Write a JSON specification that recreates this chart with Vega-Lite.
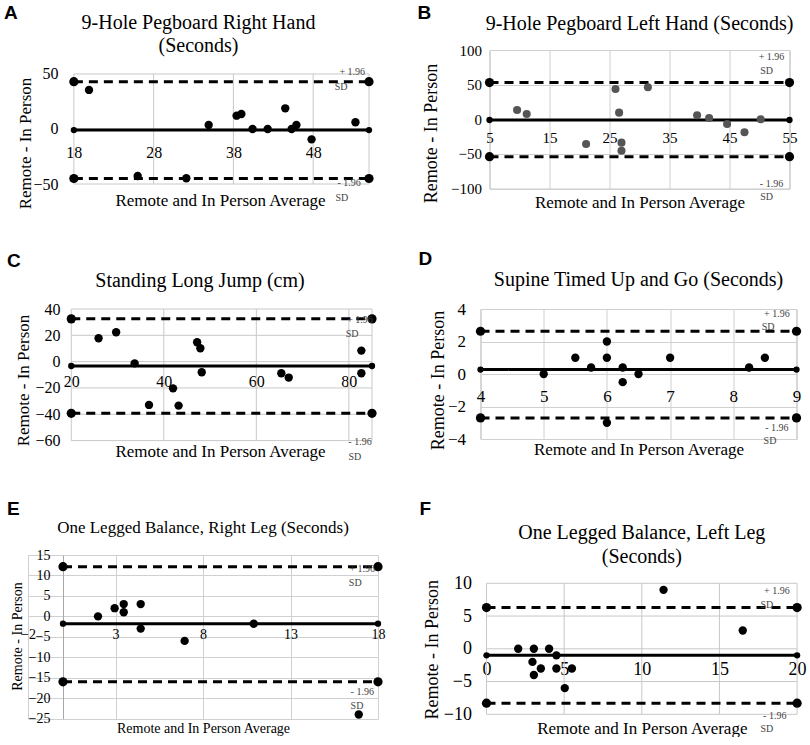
{
"$schema":"https://vega.github.io/schema/vega-lite/v6.json",
"padding":{"left":4,"top":3,"right":0,"bottom":0},
"spacing":39,
"datasets":{
"pts":[
{"panel":"A","x":19.9,"y":35.5},{"panel":"A","x":26.0,"y":-42.7},{"panel":"A","x":32.1,"y":-44.8},{"panel":"A","x":34.9,"y":3.6},{"panel":"A","x":38.4,"y":12.1},{"panel":"A","x":39.0,"y":13.6},{"panel":"A","x":40.4,"y":0},{"panel":"A","x":42.3,"y":0},{"panel":"A","x":44.5,"y":18.8},{"panel":"A","x":45.3,"y":0},{"panel":"A","x":45.9,"y":3.6},{"panel":"A","x":47.8,"y":-9.4},{"panel":"A","x":53.3,"y":6.1},
{"panel":"B","x":9.6,"y":13.4},{"panel":"B","x":11.2,"y":7.6},{"panel":"B","x":21.1,"y":-35.6},{"panel":"B","x":26.0,"y":43.7},{"panel":"B","x":26.6,"y":9.6},{"panel":"B","x":27.0,"y":-33.7},{"panel":"B","x":27.0,"y":-45.3},{"panel":"B","x":31.4,"y":46.2},{"panel":"B","x":39.6,"y":5.8},{"panel":"B","x":41.6,"y":1.9},{"panel":"B","x":44.6,"y":-6.8},{"panel":"B","x":47.5,"y":-18.8},{"panel":"B","x":50.2,"y":0},
{"panel":"C","x":25.9,"y":17.8},{"panel":"C","x":29.7,"y":22.3},{"panel":"C","x":33.7,"y":-1.3},{"panel":"C","x":36.8,"y":-32.9},{"panel":"C","x":42.0,"y":-20.3},{"panel":"C","x":43.2,"y":-33.4},{"panel":"C","x":47.2,"y":14.7},{"panel":"C","x":47.9,"y":10.2},{"panel":"C","x":48.2,"y":-8.1},{"panel":"C","x":65.4,"y":-8.8},{"panel":"C","x":67.0,"y":-12.1},{"panel":"C","x":82.7,"y":8.4},{"panel":"C","x":82.7,"y":-8.8},
{"panel":"D","x":5.0,"y":0},{"panel":"D","x":5.5,"y":1},{"panel":"D","x":5.75,"y":0.4},{"panel":"D","x":6,"y":2},{"panel":"D","x":6,"y":1},{"panel":"D","x":6,"y":-3},{"panel":"D","x":6.25,"y":0.4},{"panel":"D","x":6.25,"y":-0.5},{"panel":"D","x":6.5,"y":0},{"panel":"D","x":7,"y":1},{"panel":"D","x":8.25,"y":0.4},{"panel":"D","x":8.5,"y":1},
{"panel":"E","x":2.0,"y":0},{"panel":"E","x":2.95,"y":2},{"panel":"E","x":3.47,"y":3},{"panel":"E","x":3.47,"y":1},{"panel":"E","x":4.44,"y":3},{"panel":"E","x":4.44,"y":-3},{"panel":"E","x":6.95,"y":-6},{"panel":"E","x":10.9,"y":-1.8},{"panel":"E","x":16.9,"y":-24},
{"panel":"F","x":2.04,"y":0},{"panel":"F","x":3.05,"y":0},{"panel":"F","x":4.03,"y":0},{"panel":"F","x":4.5,"y":-1},{"panel":"F","x":2.96,"y":-2},{"panel":"F","x":3.05,"y":-4},{"panel":"F","x":3.5,"y":-3},{"panel":"F","x":4.5,"y":-3},{"panel":"F","x":5.5,"y":-3},{"panel":"F","x":5.04,"y":-6},{"panel":"F","x":11.4,"y":9},{"panel":"F","x":16.5,"y":2.8}
],
"lines":[
{"panel":"A","series":"upper","kind":"limit","x":18,"y":43},{"panel":"A","series":"upper","kind":"limit","x":55,"y":43},{"panel":"A","series":"mean","kind":"mean","x":18,"y":-1},{"panel":"A","series":"mean","kind":"mean","x":55,"y":-1},{"panel":"A","series":"lower","kind":"limit","x":18,"y":-45},{"panel":"A","series":"lower","kind":"limit","x":55,"y":-45},
{"panel":"B","series":"upper","kind":"limit","x":5,"y":53},{"panel":"B","series":"upper","kind":"limit","x":55,"y":53},{"panel":"B","series":"mean","kind":"mean","x":5,"y":-1},{"panel":"B","series":"mean","kind":"mean","x":55,"y":-1},{"panel":"B","series":"lower","kind":"limit","x":5,"y":-54},{"panel":"B","series":"lower","kind":"limit","x":55,"y":-54},
{"panel":"C","series":"upper","kind":"limit","x":20,"y":32.5},{"panel":"C","series":"upper","kind":"limit","x":85,"y":32.5},{"panel":"C","series":"mean","kind":"mean","x":20,"y":-3.3},{"panel":"C","series":"mean","kind":"mean","x":85,"y":-3.3},{"panel":"C","series":"lower","kind":"limit","x":20,"y":-39.3},{"panel":"C","series":"lower","kind":"limit","x":85,"y":-39.3},
{"panel":"D","series":"upper","kind":"limit","x":4,"y":2.63},{"panel":"D","series":"upper","kind":"limit","x":9,"y":2.63},{"panel":"D","series":"mean","kind":"mean","x":4,"y":0.27},{"panel":"D","series":"mean","kind":"mean","x":9,"y":0.27},{"panel":"D","series":"lower","kind":"limit","x":4,"y":-2.7},{"panel":"D","series":"lower","kind":"limit","x":9,"y":-2.7},
{"panel":"E","series":"upper","kind":"limit","x":0,"y":12.15},{"panel":"E","series":"upper","kind":"limit","x":18,"y":12.15},{"panel":"E","series":"mean","kind":"mean","x":0,"y":-1.8},{"panel":"E","series":"mean","kind":"mean","x":18,"y":-1.8},{"panel":"E","series":"lower","kind":"limit","x":0,"y":-16},{"panel":"E","series":"lower","kind":"limit","x":18,"y":-16},
{"panel":"F","series":"upper","kind":"limit","x":0,"y":6.3},{"panel":"F","series":"upper","kind":"limit","x":20,"y":6.3},{"panel":"F","series":"mean","kind":"mean","x":0,"y":-1.0},{"panel":"F","series":"mean","kind":"mean","x":20,"y":-1.0},{"panel":"F","series":"lower","kind":"limit","x":0,"y":-8.3},{"panel":"F","series":"lower","kind":"limit","x":20,"y":-8.3}
],
"grid":[
{"panel":"A","x":18,"x2":18,"y":-50,"y2":50},{"panel":"A","x":28,"x2":28,"y":-50,"y2":50},{"panel":"A","x":38,"x2":38,"y":-50,"y2":50},{"panel":"A","x":48,"x2":48,"y":-50,"y2":50},{"panel":"A","x":55,"x2":55,"y":-50,"y2":50},
{"panel":"A","x":18,"x2":55,"y":-50,"y2":-50},{"panel":"A","x":18,"x2":55,"y":0,"y2":0},{"panel":"A","x":18,"x2":55,"y":50,"y2":50},
{"panel":"C","x":20,"x2":20,"y":-60,"y2":40},{"panel":"C","x":40,"x2":40,"y":-60,"y2":40},{"panel":"C","x":60,"x2":60,"y":-60,"y2":40},{"panel":"C","x":80,"x2":80,"y":-60,"y2":40},{"panel":"C","x":85,"x2":85,"y":-60,"y2":40},
{"panel":"C","x":20,"x2":85,"y":-60,"y2":-60},{"panel":"C","x":20,"x2":85,"y":-40,"y2":-40},{"panel":"C","x":20,"x2":85,"y":-20,"y2":-20},{"panel":"C","x":20,"x2":85,"y":0,"y2":0},{"panel":"C","x":20,"x2":85,"y":20,"y2":20},{"panel":"C","x":20,"x2":85,"y":40,"y2":40},
{"panel":"F","x":0,"x2":0,"y":-10,"y2":10},{"panel":"F","x":5,"x2":5,"y":-10,"y2":10},{"panel":"F","x":10,"x2":10,"y":-10,"y2":10},{"panel":"F","x":15,"x2":15,"y":-10,"y2":10},{"panel":"F","x":20,"x2":20,"y":-10,"y2":10},
{"panel":"F","x":0,"x2":20,"y":-10,"y2":-10},{"panel":"F","x":0,"x2":20,"y":-5,"y2":-5},{"panel":"F","x":0,"x2":20,"y":0,"y2":0},{"panel":"F","x":0,"x2":20,"y":5,"y2":5},{"panel":"F","x":0,"x2":20,"y":10,"y2":10}
],
"notes":[
{"panel":"A","x":52.9,"y":51.8,"t":"+ 1.96"},{"panel":"A","x":51.5,"y":38.2,"t":"SD"},{"panel":"A","x":52.5,"y":-49,"t":"- 1.96"},{"panel":"A","x":51.6,"y":-62.7,"t":"SD"},
{"panel":"B","x":52,"y":89.9,"t":"+ 1.96"},{"panel":"B","x":51.2,"y":69.7,"t":"SD"},{"panel":"B","x":52,"y":-93.4,"t":"- 1.96"},{"panel":"B","x":51.2,"y":-112,"t":"SD"},
{"panel":"C","x":82.4,"y":31.7,"t":"+ 1.96"},{"panel":"C","x":80.7,"y":21,"t":"SD"},{"panel":"C","x":82.4,"y":-61,"t":"- 1.96"},{"panel":"C","x":81.3,"y":-72.5,"t":"SD"},
{"panel":"D","x":8.69,"y":3.7,"t":"+ 1.96"},{"panel":"D","x":8.55,"y":2.87,"t":"SD"},{"panel":"D","x":8.69,"y":-3.34,"t":"- 1.96"},{"panel":"D","x":8.58,"y":-4.1,"t":"SD"},
{"panel":"E","x":17.1,"y":11.5,"t":"+ 1.96"},{"panel":"E","x":16.7,"y":8.1,"t":"SD"},{"panel":"E","x":17.1,"y":-18.6,"t":"- 1.96"},{"panel":"E","x":16.8,"y":-22,"t":"SD"},
{"panel":"F","x":18.7,"y":8.9,"t":"+ 1.96"},{"panel":"F","x":18.05,"y":6.7,"t":"SD"},{"panel":"F","x":18.56,"y":-10.3,"t":"- 1.96"},{"panel":"F","x":18.05,"y":-12.3,"t":"SD"}
]
},
"vconcat":[
{"spacing":42.5,"hconcat":[
{"title":{"text":"A","anchor":"start","frame":"group","font":"Liberation Sans","fontWeight":"bold","fontSize":19,"offset":-10,"dx":-24},
 "vconcat":[{
 "width":341,"height":134,
 "view":{"stroke":null},
 "title":{"text":["9-Hole Pegboard Right Hand","(Seconds)"],"font":"Liberation Serif","lineHeight":23,"offset":-6},
 "encoding":{
  "x":{"field":"x","type":"quantitative","scale":{"domain":[12.25,55],"nice":false,"zero":false},"axis":{"values":[18,28,38,48],"grid":false,"title":"Remote and In Person Average","labelFont":"Liberation Serif","titleFont":"Liberation Serif","offset":-55,"labelPadding":23,"labelFontSize":16,"titleFontSize":17,"titleY":71,"titleX":192}},
  "y":{"field":"y","type":"quantitative","scale":{"domain":[-50,71.8],"nice":false,"zero":false},"axis":{"values":[-50,0,50],"grid":false,"offset":-46,"title":"Remote - In Person","labelFont":"Liberation Serif","titleFont":"Liberation Serif","labelPadding":16,"labelFontSize":16,"titleFontSize":17,"titleX":-49,"titleY":93}}
 },
 "layer":[
  {"data":{"name":"grid"},"transform":[{"filter":"datum.panel==='A'"}],"mark":{"type":"rule","color":"#c8c8c8","strokeWidth":1},"encoding":{"x2":{"field":"x2"},"y2":{"field":"y2"}}},
  {"data":{"name":"lines"},"transform":[{"filter":"datum.panel==='A'"}],"mark":{"type":"line","color":"#000","strokeWidth":3},"encoding":{"detail":{"field":"series"},"strokeDash":{"field":"kind","type":"nominal","scale":{"domain":["limit","mean"],"range":[[9,6],[1,0]]},"legend":null}}},
  {"data":{"name":"lines"},"transform":[{"filter":"datum.panel==='A'"}],"mark":{"type":"point","filled":true,"color":"#000","opacity":1},"encoding":{"size":{"field":"kind","type":"nominal","scale":{"domain":["limit","mean"],"range":[85,40]},"legend":null}}},
  {"data":{"name":"pts"},"transform":[{"filter":"datum.panel==='A'"}],"mark":{"type":"point","filled":true,"color":"#000","size":70,"opacity":1}},
  {"data":{"name":"notes"},"transform":[{"filter":"datum.panel==='A'"}],"mark":{"type":"text","font":"Liberation Serif","fontSize":10,"color":"#444"},"encoding":{"text":{"field":"t"}}}
 ]}]},
{"title":{"text":"B","anchor":"start","frame":"group","font":"Liberation Sans","fontWeight":"bold","fontSize":19,"offset":-9.5,"dx":-72},
 "vconcat":[{
 "width":300,"height":138.6,
 "title":{"text":"9-Hole Pegboard Left Hand (Seconds)","font":"Liberation Serif","offset":9.5},
 "encoding":{
  "x":{"field":"x","type":"quantitative","scale":{"domain":[5,55],"nice":false,"zero":false},"axis":{"values":[5,15,25,35,45,55],"title":"Remote and In Person Average","labelFont":"Liberation Serif","titleFont":"Liberation Serif","offset":-69.3,"labelPadding":18,"labelFontSize":15,"titleFontSize":17,"titleY":82.7}},
  "y":{"field":"y","type":"quantitative","scale":{"domain":[-100,100],"nice":false,"zero":false},"axis":{"values":[-100,-50,0,50,100],"title":"Remote - In Person","labelFont":"Liberation Serif","titleFont":"Liberation Serif","labelPadding":8,"labelFontSize":15,"titleFontSize":18,"titleX":-58,"titleY":83}}
 },
 "layer":[
  {"data":{"name":"lines"},"transform":[{"filter":"datum.panel==='B'"}],"mark":{"type":"line","color":"#000","strokeWidth":3},"encoding":{"detail":{"field":"series"},"strokeDash":{"field":"kind","type":"nominal","scale":{"domain":["limit","mean"],"range":[[9,6],[1,0]]},"legend":null}}},
  {"data":{"name":"lines"},"transform":[{"filter":"datum.panel==='B'"}],"mark":{"type":"point","filled":true,"color":"#000","opacity":1},"encoding":{"size":{"field":"kind","type":"nominal","scale":{"domain":["limit","mean"],"range":[85,40]},"legend":null}}},
  {"data":{"name":"pts"},"transform":[{"filter":"datum.panel==='B'"}],"mark":{"type":"point","filled":true,"color":"#555","size":65,"opacity":1}},
  {"data":{"name":"notes"},"transform":[{"filter":"datum.panel==='B'"}],"mark":{"type":"text","font":"Liberation Serif","fontSize":10,"color":"#444"},"encoding":{"text":{"field":"t"}}}
 ]}]}
]},
{"spacing":37,"vconcat":[
{"spacing":40.5,"hconcat":[
{"title":{"text":"C","anchor":"start","frame":"group","font":"Liberation Sans","fontWeight":"bold","fontSize":19,"offset":0,"dx":-21},
 "vconcat":[{
 "width":344,"height":131.6,
 "view":{"stroke":null},
 "title":{"text":"Standing Long Jump (cm)","font":"Liberation Serif","offset":10},
 "encoding":{
  "x":{"field":"x","type":"quantitative","scale":{"domain":[10.65,85],"nice":false,"zero":false},"axis":{"values":[20,40,60,80],"grid":false,"title":"Remote and In Person Average","labelFont":"Liberation Serif","titleFont":"Liberation Serif","offset":-79,"labelPadding":20,"labelFontSize":16,"titleFontSize":17,"titleY":90.3,"titleX":192}},
  "y":{"field":"y","type":"quantitative","scale":{"domain":[-60,40],"nice":false,"zero":false},"axis":{"values":[-60,-40,-20,0,20,40],"grid":false,"offset":-43,"title":"Remote - In Person","labelFont":"Liberation Serif","titleFont":"Liberation Serif","labelPadding":11,"labelFontSize":16,"titleFontSize":17,"titleX":-48,"titleY":71}}
 },
 "layer":[
  {"data":{"name":"grid"},"transform":[{"filter":"datum.panel==='C'"}],"mark":{"type":"rule","color":"#c8c8c8","strokeWidth":1},"encoding":{"x2":{"field":"x2"},"y2":{"field":"y2"}}},
  {"data":{"name":"lines"},"transform":[{"filter":"datum.panel==='C'"}],"mark":{"type":"line","color":"#000","strokeWidth":3},"encoding":{"detail":{"field":"series"},"strokeDash":{"field":"kind","type":"nominal","scale":{"domain":["limit","mean"],"range":[[9,6],[1,0]]},"legend":null}}},
  {"data":{"name":"lines"},"transform":[{"filter":"datum.panel==='C'"}],"mark":{"type":"point","filled":true,"color":"#000","opacity":1},"encoding":{"size":{"field":"kind","type":"nominal","scale":{"domain":["limit","mean"],"range":[85,40]},"legend":null}}},
  {"data":{"name":"pts"},"transform":[{"filter":"datum.panel==='C'"}],"mark":{"type":"point","filled":true,"color":"#000","size":70,"opacity":1}},
  {"data":{"name":"notes"},"transform":[{"filter":"datum.panel==='C'"}],"mark":{"type":"text","font":"Liberation Serif","fontSize":10,"color":"#444"},"encoding":{"text":{"field":"t"}}}
 ]}]},
{"title":{"text":"D","anchor":"start","frame":"group","font":"Liberation Sans","fontWeight":"bold","fontSize":19,"offset":0,"dx":-62},
 "vconcat":[{
 "width":316,"height":130,
 "title":{"text":"Supine Timed Up and Go (Seconds)","font":"Liberation Serif","offset":10.5},
 "encoding":{
  "x":{"field":"x","type":"quantitative","scale":{"domain":[4,9],"nice":false,"zero":false},"axis":{"values":[4,5,6,7,8,9],"title":"Remote and In Person Average","labelFont":"Liberation Serif","titleFont":"Liberation Serif","offset":-65,"labelPadding":22,"labelFontSize":17,"titleFontSize":17,"titleY":75}},
  "y":{"field":"y","type":"quantitative","scale":{"domain":[-4,4],"nice":false,"zero":false},"axis":{"values":[-4,-2,0,2,4],"title":"Remote - In Person","labelFont":"Liberation Serif","titleFont":"Liberation Serif","labelPadding":15,"labelFontSize":17,"titleFontSize":18,"titleX":-42,"titleY":71}}
 },
 "layer":[
  {"data":{"name":"lines"},"transform":[{"filter":"datum.panel==='D'"}],"mark":{"type":"line","color":"#000","strokeWidth":3},"encoding":{"detail":{"field":"series"},"strokeDash":{"field":"kind","type":"nominal","scale":{"domain":["limit","mean"],"range":[[9,6],[1,0]]},"legend":null}}},
  {"data":{"name":"lines"},"transform":[{"filter":"datum.panel==='D'"}],"mark":{"type":"point","filled":true,"color":"#000","opacity":1},"encoding":{"size":{"field":"kind","type":"nominal","scale":{"domain":["limit","mean"],"range":[85,40]},"legend":null}}},
  {"data":{"name":"pts"},"transform":[{"filter":"datum.panel==='D'"}],"mark":{"type":"point","filled":true,"color":"#000","size":70,"opacity":1}},
  {"data":{"name":"notes"},"transform":[{"filter":"datum.panel==='D'"}],"mark":{"type":"text","font":"Liberation Serif","fontSize":10,"color":"#444"},"encoding":{"text":{"field":"t"}}}
 ]}]}
]},
{"spacing":34.5,"hconcat":[
{"title":{"text":"E","anchor":"start","frame":"group","font":"Liberation Sans","fontWeight":"bold","fontSize":19,"offset":0,"dx":-21},
 "vconcat":[{
 "width":350,"height":163.6,
 "view":{"stroke":null},
 "title":{"text":"One Legged Balance, Right Leg (Seconds)","font":"Liberation Serif","fontSize":17,"offset":10.7},
 "encoding":{
  "x":{"field":"x","type":"quantitative","scale":{"domain":[-2,18],"nice":false,"zero":false},"axis":{"values":[-2,3,8,13,18],"title":"Remote and In Person Average","labelFont":"Liberation Serif","titleFont":"Liberation Serif","offset":-102.25,"labelPadding":18,"labelFontSize":14,"titleFontSize":14,"titleY":112.3}},
  "y":{"field":"y","type":"quantitative","scale":{"domain":[-25,15],"nice":false,"zero":false},"axis":{"values":[-25,-20,-15,-10,-5,0,5,10,15],"title":"Remote - In Person","labelFont":"Liberation Serif","titleFont":"Liberation Serif","offset":-35,"domain":true,"domainColor":"#a8a8a8","labelPadding":13,"labelFontSize":14,"titleFontSize":14,"titleX":-46,"titleY":81}}
 },
 "layer":[
  {"data":{"name":"lines"},"transform":[{"filter":"datum.panel==='E'"}],"mark":{"type":"line","color":"#000","strokeWidth":3},"encoding":{"detail":{"field":"series"},"strokeDash":{"field":"kind","type":"nominal","scale":{"domain":["limit","mean"],"range":[[9,6],[1,0]]},"legend":null}}},
  {"data":{"name":"lines"},"transform":[{"filter":"datum.panel==='E'"}],"mark":{"type":"point","filled":true,"color":"#000","opacity":1},"encoding":{"size":{"field":"kind","type":"nominal","scale":{"domain":["limit","mean"],"range":[85,40]},"legend":null}}},
  {"data":{"name":"pts"},"transform":[{"filter":"datum.panel==='E'"}],"mark":{"type":"point","filled":true,"color":"#000","size":70,"opacity":1}},
  {"data":{"name":"notes"},"transform":[{"filter":"datum.panel==='E'"}],"mark":{"type":"text","font":"Liberation Serif","fontSize":10,"color":"#444"},"encoding":{"text":{"field":"t"}}}
 ]}]},
{"title":{"text":"F","anchor":"start","frame":"group","font":"Liberation Sans","fontWeight":"bold","fontSize":19,"offset":4,"dx":-67},
 "vconcat":[{
 "width":310.6,"height":159.3,
 "view":{"stroke":null},
 "title":{"text":["One Legged Balance, Left Leg","(Seconds)"],"font":"Liberation Serif","lineHeight":24,"offset":-12.3},
 "encoding":{
  "x":{"field":"x","type":"quantitative","scale":{"domain":[0,20],"nice":false,"zero":false},"axis":{"values":[0,5,10,15,20],"grid":false,"title":"Remote and In Person Average","labelFont":"Liberation Serif","titleFont":"Liberation Serif","offset":-65.5,"labelPadding":21,"labelFontSize":18,"titleFontSize":17,"titleY":79.3}},
  "y":{"field":"y","type":"quantitative","scale":{"domain":[-10,14.32],"nice":false,"zero":false},"axis":{"values":[-10,-5,0,5,10],"grid":false,"title":"Remote - In Person","labelFont":"Liberation Serif","titleFont":"Liberation Serif","labelPadding":15,"labelFontSize":18,"titleFontSize":18,"titleX":-54,"titleY":94.3}}
 },
 "layer":[
  {"data":{"name":"grid"},"transform":[{"filter":"datum.panel==='F'"}],"mark":{"type":"rule","color":"#c8c8c8","strokeWidth":1},"encoding":{"x2":{"field":"x2"},"y2":{"field":"y2"}}},
  {"data":{"name":"lines"},"transform":[{"filter":"datum.panel==='F'"}],"mark":{"type":"line","color":"#000","strokeWidth":3},"encoding":{"detail":{"field":"series"},"strokeDash":{"field":"kind","type":"nominal","scale":{"domain":["limit","mean"],"range":[[9,6],[1,0]]},"legend":null}}},
  {"data":{"name":"lines"},"transform":[{"filter":"datum.panel==='F'"}],"mark":{"type":"point","filled":true,"color":"#000","opacity":1},"encoding":{"size":{"field":"kind","type":"nominal","scale":{"domain":["limit","mean"],"range":[85,40]},"legend":null}}},
  {"data":{"name":"pts"},"transform":[{"filter":"datum.panel==='F'"}],"mark":{"type":"point","filled":true,"color":"#000","size":70,"opacity":1}},
  {"data":{"name":"notes"},"transform":[{"filter":"datum.panel==='F'"}],"mark":{"type":"text","font":"Liberation Serif","fontSize":10,"color":"#444"},"encoding":{"text":{"field":"t"}}}
 ]}]}
]}
]}
],
"config":{
 "view":{"stroke":"#bdbdbd","strokeWidth":1,"fill":"white"},
 "title":{"font":"Liberation Serif","fontSize":20,"fontWeight":"normal","color":"#000","offset":10},
 "style":{"guide-label":{"font":"Liberation Serif","fill":"#000"},"guide-title":{"font":"Liberation Serif","fill":"#000","fontWeight":"normal"}},
 "axis":{"labelFont":"Liberation Serif","labelColor":"#000","titleFont":"Liberation Serif","titleFontWeight":"normal","titleColor":"#000","grid":true,"gridColor":"#d0d0d0","domain":false,"ticks":false,"tickSize":0,"labelFlush":false,"labelOverlap":false,"titleBaseline":"middle"},
 "axisX":{"labelBaseline":"middle"}
}
}
